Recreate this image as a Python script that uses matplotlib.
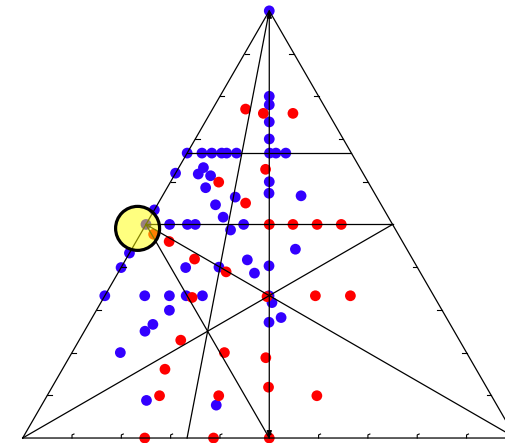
import numpy as np
import matplotlib
matplotlib.use('Agg')
import matplotlib.pyplot as plt
from matplotlib.patches import Circle

# Ternary compositions: fraction of the top component and of the right component
# (the left component is whatever remains)
blue_top = [1.00, 0.80, 0.78, 0.74, 0.70,
            0.667, 0.667, 0.667, 0.667, 0.667, 0.667, 0.667, 0.667, 0.667,
            0.62, 0.633, 0.618, 0.614, 0.586, 0.60, 0.573, 0.567, 0.564,
            0.546, 0.534, 0.517,
            0.50, 0.50, 0.50, 0.50, 0.50,
            0.487, 0.442, 0.433, 0.417, 0.399, 0.399, 0.40, 0.386, 0.403,
            0.333, 0.333, 0.333, 0.333, 0.333, 0.333,
            0.317, 0.299, 0.282, 0.266, 0.25, 0.271, 0.20, 0.088, 0.077]
blue_right = [0.00, 0.10, 0.11, 0.13, 0.15,
              0.00, 0.03, 0.05, 0.07, 0.08, 0.10, 0.167, 0.18, 0.20,
              0.00, 0.05, 0.047, 0.074, 0.078, 0.20, 0.213, 0.281, 0.149,
              0.118, 0.00, 0.148,
              0.00, 0.048, 0.084, 0.10, 0.198,
              0.178, 0.332, 0.00, 0.247, 0.00, 0.131, 0.198, 0.277, 0.298,
              0.00, 0.081, 0.131, 0.165, 0.198, 0.333,
              0.347, 0.148, 0.383, 0.131, 0.123, 0.364, 0.098, 0.207, 0.354]

red_top = [0.77, 0.76, 0.76, 0.629, 0.599, 0.55,
           0.50, 0.50, 0.50, 0.50,
           0.477, 0.46, 0.419, 0.389, 0.329, 0.331, 0.333, 0.333,
           0.229, 0.20, 0.188, 0.161, 0.119, 0.099, 0.099, 0.099,
           0.0, 0.0, 0.0]
red_right = [0.067, 0.108, 0.168, 0.178, 0.098, 0.177,
             0.25, 0.298, 0.347, 0.396,
             0.027, 0.067, 0.139, 0.218, 0.179, 0.33, 0.427, 0.498,
             0.206, 0.309, 0.399, 0.208, 0.439, 0.228, 0.348, 0.547,
             0.2475, 0.387, 0.50]

# highlighted spot (cartesian triangle coordinates) and its radius
highlight_xy = (0.233, 0.425)
highlight_r = 0.0446

H = np.sqrt(3) / 2


def to_xy(top, right):
    top = np.asarray(top, dtype=float)
    right = np.asarray(right, dtype=float)
    return right + top / 2, top * H


fig = plt.figure(figsize=(5.05, 4.43), dpi=100)
ax = fig.add_axes([0, 0, 1, 1])
ax.set_xlim(-0.046, 0.978)
ax.set_ylim(-0.0101, 0.888)
ax.axis('off')

# data points
bx, by = to_xy(blue_top, blue_right)
rx, ry = to_xy(red_top, red_right)
ax.scatter(bx, by, s=60, color='#3300ff', edgecolors='none', zorder=2)
ax.scatter(rx, ry, s=60, color='#ff0000', edgecolors='none', zorder=3)

lw = 0.9
A = (0.0, 0.0)   # bottom left
B = (1.0, 0.0)   # bottom right
C = (0.5, H)     # apex

# triangle outline
ax.plot([A[0], B[0], C[0], A[0]], [A[1], B[1], C[1], A[1]], color='black', lw=lw, zorder=4)


def seg(p, q):
    ax.plot([p[0], q[0]], [p[1], q[1]], color='black', lw=lw, zorder=4)


mid_left = ((A[0] + C[0]) / 2, (A[1] + C[1]) / 2)
mid_right = ((B[0] + C[0]) / 2, (B[1] + C[1]) / 2)
mid_bottom = (0.5, 0.0)

# guide lines inside the triangle
seg(to_xy(2 / 3, 0.0), to_xy(2 / 3, 1 / 3))
seg(mid_left, mid_right)
seg(mid_right, A)
seg(mid_left, B)
seg(mid_left, mid_bottom)
seg(C, (1 / 3, 0.0))
ax.annotate('', xy=mid_bottom, xytext=C,
            arrowprops=dict(arrowstyle='<|-|>,head_length=0.4,head_width=0.15',
                            color='black', lw=lw, shrinkA=0, shrinkB=0),
            zorder=4)

# small tick marks every 10 %
t = 0.009
for f in np.arange(0.1, 1.0, 0.1):
    # bottom edge
    ax.plot([f, f, f + 0.004], [0, t * 0.7, t * 0.9], color='black', lw=0.8, zorder=4)
    # left edge
    lx, ly = f / 2, f * H
    ax.plot([lx, lx + t], [ly, ly], color='black', lw=0.8, zorder=4)
    # right edge
    rx_, ry_ = 1 - f / 2, f * H
    ax.plot([rx_, rx_ - t], [ry_, ry_], color='black', lw=0.8, zorder=4)

# highlight circle
ax.add_patch(Circle(highlight_xy, highlight_r, facecolor='yellow', alpha=0.5,
                    edgecolor='none', zorder=5))
ax.add_patch(Circle(highlight_xy, highlight_r, facecolor='none',
                    edgecolor='black', lw=2.3, zorder=6))

fig.savefig('out.png', dpi=100)
